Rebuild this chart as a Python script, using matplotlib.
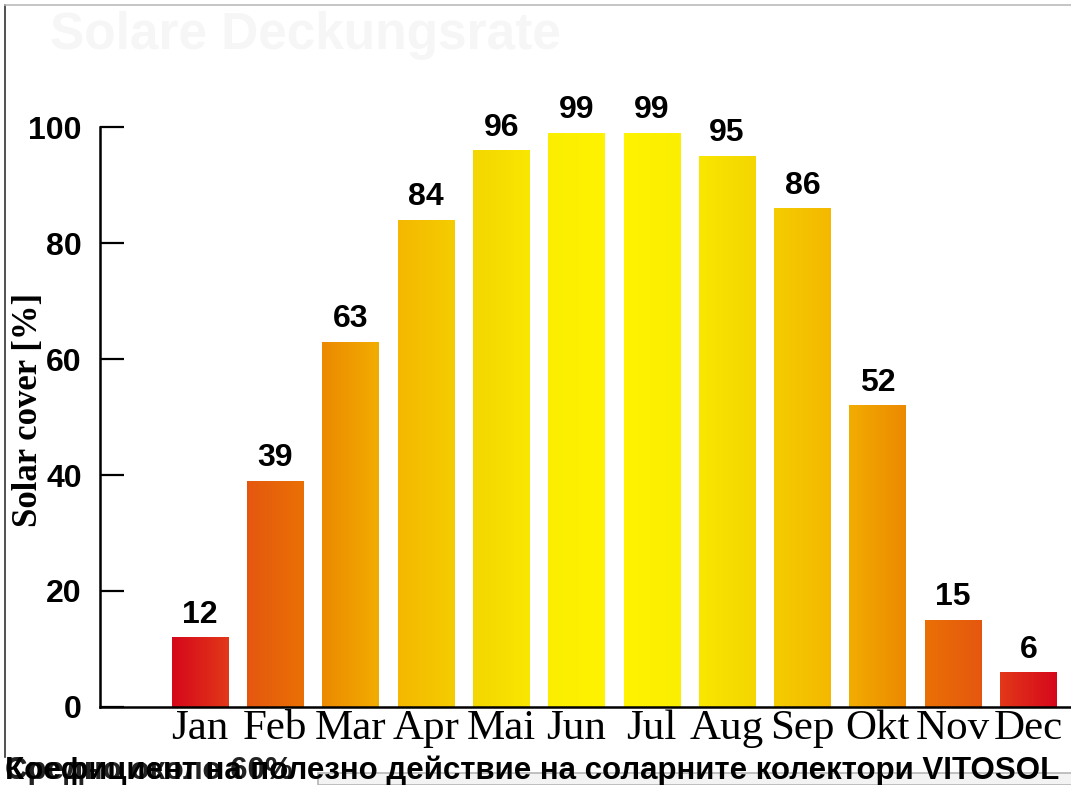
import numpy as np
import matplotlib
matplotlib.use('Agg')
import matplotlib.pyplot as plt
from matplotlib.colors import LinearSegmentedColormap
from matplotlib.patches import Rectangle
from matplotlib.lines import Line2D

# data
months = ['Jan', 'Feb', 'Mar', 'Apr', 'Mai', 'Jun', 'Jul', 'Aug', 'Sep', 'Okt', 'Nov', 'Dec']
solar_cover = [12, 39, 63, 84, 96, 99, 99, 95, 86, 52, 15, 6]
yticks = [0, 20, 40, 60, 80, 100]

title_faded = 'Solare Deckungsrate'
caption = 'Коефициент на полезно действие на соларните колектори VITOSOL'
caption_under = 'Средно около 60%'

# red -> yellow -> red across the months
cmap = LinearSegmentedColormap.from_list('sun', [
    (0.00, '#fff400'), (0.15, '#fbee00'), (0.19, '#f9e600'), (0.31, '#f4d600'),
    (0.35, '#f5cd00'), (0.48, '#f4b800'), (0.52, '#f2ad00'), (0.65, '#ec8800'),
    (0.69, '#ea7005'), (0.81, '#e5580f'), (0.85, '#e23a18'), (1.00, '#d4001c')])

W, H = 1071, 785
fig = plt.figure(figsize=(W / 100, H / 100), dpi=100)
ax = fig.add_axes([100 / W, 1 - 707 / H, (W - 100) / W, (707 - 127) / H])

x = np.arange(len(months))
mid = (len(months) - 1) / 2
bars = ax.bar(x, solar_cover, width=0.75, color='none', edgecolor='none', zorder=2)
for b in bars:
    x0, w, h = b.get_x(), b.get_width(), b.get_height()
    xs = np.linspace(x0, x0 + w, 80)
    t = np.clip(np.abs(xs - mid) / (mid + 0.5), 0, 1)
    img = cmap(t)[None, :, :]
    im = ax.imshow(img, extent=[x0, x0 + w, 0, h], aspect='auto',
                   interpolation='bilinear', zorder=2)
    im.set_clip_path(b)

for xi, v in zip(x, solar_cover):
    ax.text(xi, v + 1.3, str(v), ha='center', va='bottom', fontsize=23,
            fontweight='bold', family='Liberation Sans', clip_on=False)

ax.set_xlim(-1.328, 11.567)
ax.set_ylim(0, 100)
ax.set_xticks(x)
ax.set_xticklabels(months, family='Liberation Serif', fontsize=31)
ax.tick_params(axis='x', length=0, pad=2)
ax.set_yticks(yticks)
ax.set_yticklabels([str(t) for t in yticks], family='Liberation Sans',
                   fontweight='bold', fontsize=23)
ax.tick_params(axis='y', direction='in', length=17, width=1.6, pad=13)
for s in ['top', 'right']:
    ax.spines[s].set_visible(False)
ax.spines['left'].set_linewidth(1.8)
ax.spines['bottom'].set_linewidth(1.8)
ax.set_facecolor('none')

fig.text(29 / W, 1 - 410 / H, 'Solar cover [%]', rotation=90, ha='center', va='center',
         family='Liberation Serif', fontweight='bold', fontsize=25)

fig.text(50 / W, 1 - 36 / H, title_faded, ha='left', va='center', fontsize=37,
         fontweight='bold', family='Liberation Sans', color='#f6f6f6')

# bottom captions (overlapping, as in the source)
fig.text(5 / W, 1 - 779 / H, caption_under, ha='left', va='baseline', fontsize=22.5,
         fontweight='bold', family='Liberation Sans', color='#222222')
fig.text(5 / W, 1 - 779 / H, caption, ha='left', va='baseline', fontsize=22.5,
         fontweight='bold', family='Liberation Sans', color='black')

# screenshot frame bits
fig.add_artist(Rectangle((318 / W, 0), 1, 12 / H, transform=fig.transFigure,
                         facecolor='#f3f3f3', edgecolor='#b5b5b5', lw=1.2))
fig.add_artist(Line2D([5 / W, 5 / W], [1 - 5 / H, 1 - 757 / H], transform=fig.transFigure,
                      color='#333333', lw=1.2))
fig.add_artist(Line2D([5 / W, 1], [1 - 5 / H, 1 - 5 / H], transform=fig.transFigure,
                      color='#bbbbbb', lw=1.2))

fig.savefig('out.png', dpi=100)
